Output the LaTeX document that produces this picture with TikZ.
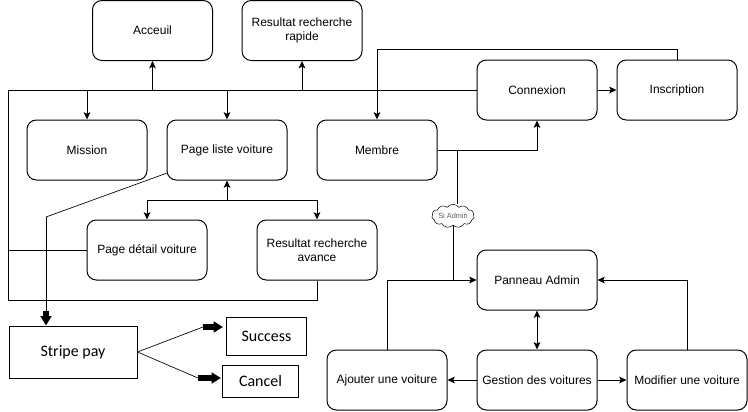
\documentclass[tikz,border=0pt]{standalone}
\usepackage{fontspec}
\setmainfont{Liberation Sans}
\newfontfamily\calfont{Carlito}
\usetikzlibrary{arrows.meta,shapes.symbols,calc}
\begin{document}
\begin{tikzpicture}[x=0.75pt,y=-0.75pt,
  box/.style={draw,line width=0.75pt,rounded corners=7pt,minimum width=90pt,minimum height=45pt,
    inner sep=1pt,align=center,font=\fontsize{9}{10.5}\selectfont},
  rbox/.style={draw,line width=0.75pt,inner sep=0pt,font=\calfont\fontsize{12}{14}\selectfont},
  ln/.style={line width=0.75pt},
  tln/.style={line width=0.5pt},
  tip/.tip={Stealth[length=5.5pt,width=5pt,inset=1.2pt]},
  arr/.style={ln,-tip},
  darr/.style={ln,tip-tip},
  bigarr/.style={line width=3.8pt,-{Triangle[length=7pt,width=8pt]}},
  cloudnode/.style={cloud,draw,line width=0.4pt,cloud puffs=11,cloud puff arc=110,aspect=2.3,
    inner sep=0pt,minimum width=31pt,minimum height=13pt,text=black!65,font=\fontsize{5.5}{6}\selectfont}]
\useasboundingbox (0,0) rectangle (748,411);
% nodes
\node[box] (acc) at (152.5,30.5) {Acceuil};
\node[box] (rrr) at (302,30.5) {Resultat recherche\\rapide};
\node[box] (mis) at (87,150) {Mission};
\node[box] (pl)  at (227,150) {Page liste voiture};
\node[box] (mem) at (377,150) {Membre};
\node[box] (con) at (537,90) {Connexion};
\node[box] (ins) at (677,90) {Inscription};
\node[box] (pdv) at (147,250) {Page détail voiture};
\node[box] (rra) at (317,250) {Resultat recherche\\avance};
\node[box] (pa)  at (537,280) {Panneau Admin};
\node[box] (aj)  at (387,380) {Ajouter une voiture};
\node[box] (gv)  at (537,380) {Gestion des voitures};
\node[box] (mod) at (687,380) {Modifier une voiture};
\node[rbox,minimum width=96pt,minimum height=39pt] (sp) at (73,352) {Stripe pay};
\node[rbox,minimum width=59.5pt,minimum height=28.5pt] (su) at (266.5,336) {Success};
\node[rbox,minimum width=57.5pt,minimum height=24pt] (ca) at (260.5,381) {Cancel};
\node[cloudnode] (sa) at (453,216) {Si Admin};
% coordinates
\coordinate (busL) at (8,90);
\coordinate (busB) at (8,300);
\coordinate (pj) at (227,200);
\coordinate (st) at (457,150);
\coordinate (k1) at (46,217);
\coordinate (k2) at (46,311);
\coordinate (s1) at (203,327);
\coordinate (s2) at (223,327);
\coordinate (c1) at (198,378);
\coordinate (c2) at (221,378);
% main bus
\draw[ln] (con.west) -- (busL) -- (busB) -| (rra.south);
\draw[ln] (pdv.west) -- (pdv.west -| busL);
\draw[arr] (acc.south |- con.west) -- (acc.south);
\draw[arr] (rrr.south |- con.west) -- (rrr.south);
\draw[arr] (mis.north |- con.west) -- (mis.north);
\draw[arr] (pl.north |- con.west) -- (pl.north);
% page liste children
\draw[arr] (pj) -- (pl.south);
\draw[arr] (pj) -| (pdv.north);
\draw[arr] (pj) -| (rra.north);
% inscription / membre / connexion
\draw[arr] (con.east) -- (ins.west);
\draw[arr] (ins.north) -- ++(0,-10) -| (mem.north);
\draw[arr] (mem.east) -| (con.south);
% admin
\draw[ln] (st) -- (st |- sa.north);
\draw[ln] (sa.south) -- (sa.south |- pa.west);
\draw[arr] (aj.north) |- (pa.west);
\draw[arr] (mod.north) |- (pa.east);
\draw[darr] (pa.south) -- (gv.north);
\draw[arr] (gv.west) -- (aj.east);
\draw[arr] (gv.east) -- (mod.west);
% stripe
\draw[tln] (pl.201) -- (k1);
\draw[ln] (k1) -- (k2);
\draw[bigarr] (k2) -- (k2 |- sp.north);
\draw[tln] (sp.east) -- (s1);
\draw[bigarr] (s1) -- (s2);
\draw[tln] (sp.east) -- (c1);
\draw[bigarr] (c1) -- (c2);
\end{tikzpicture}
\end{document}
